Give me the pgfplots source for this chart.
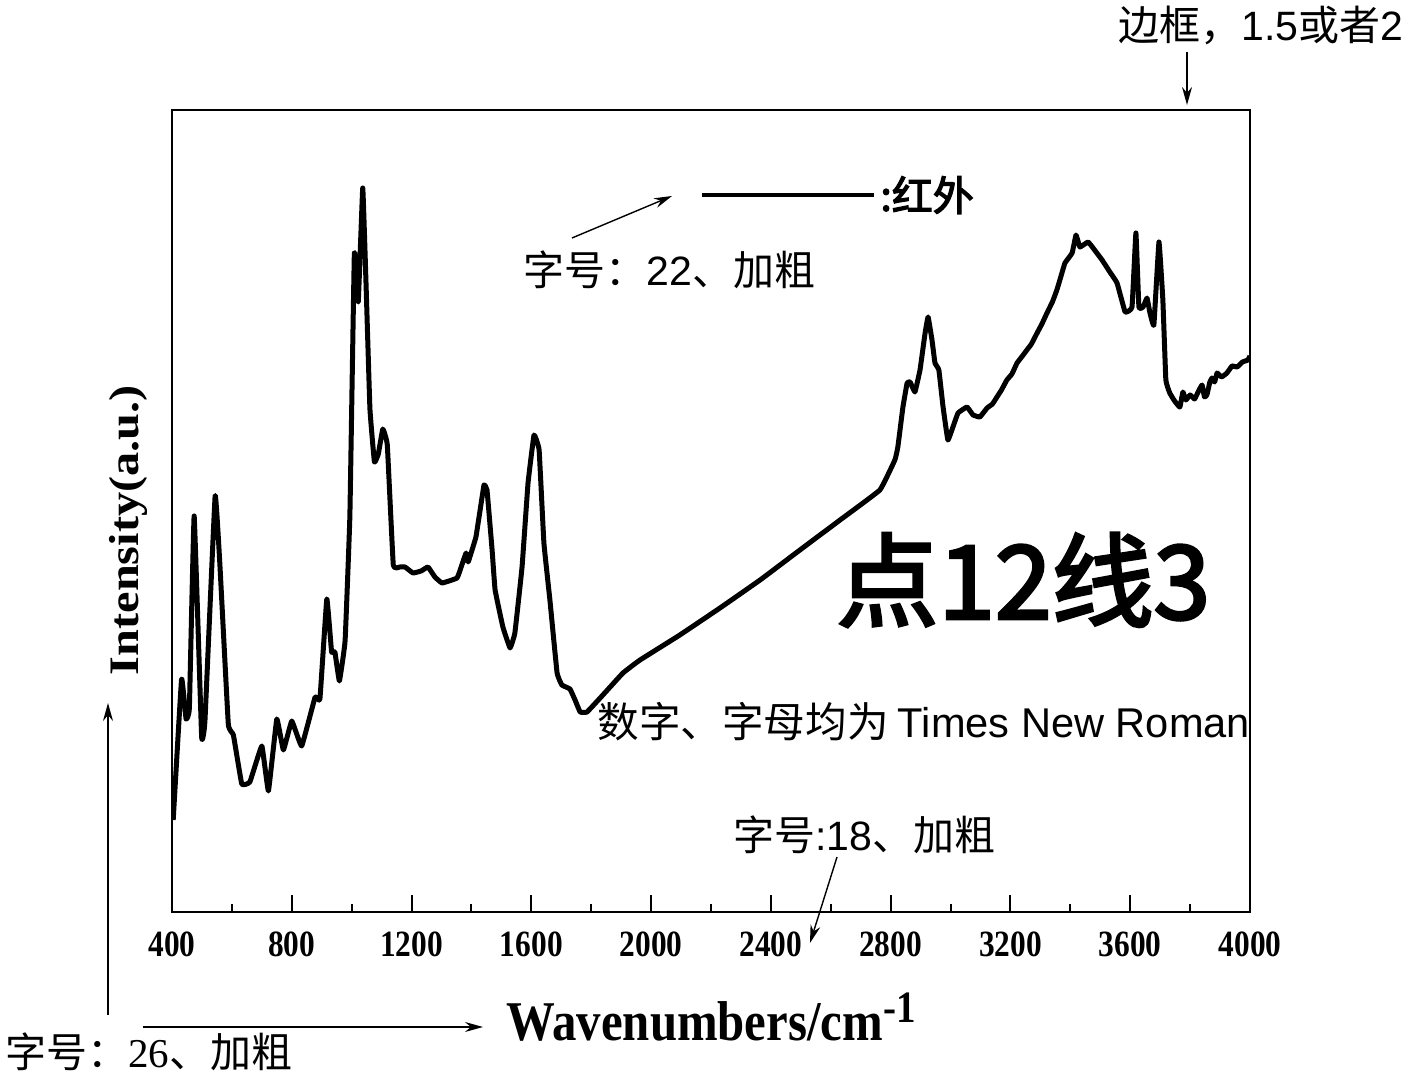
\documentclass[border=0pt]{standalone}
\usepackage{pgfplots}
\pgfplotsset{compat=1.18}
\usetikzlibrary{arrows.meta}
\usepackage{fontspec}
\setmainfont{Liberation Serif}
\newfontfamily\cjk{Noto Sans CJK SC}
\newfontfamily\cjkbig[FakeBold=3]{Noto Sans CJK SC}
\newfontfamily\arial{Liberation Sans}
\newcommand\vs[2][1.18]{\scalebox{1}[#1]{#2}}
\pgfplotstableread{
wn y
404 92
432 233
447 193
458 204
474 396
499 175
510 191
544 416
560 347
588 188
605 177
633 128
660 130
700 166
722 121
750 193
772 162
800 191
833 166
878 215
894 213
917 313
933 260
944 260
959 231
978 271
994 396
1009 659
1022 610
1037 724
1048 628
1061 503
1076 450
1089 458
1104 483
1119 467
1139 347
1161 345
1178 345
1205 339
1232 341
1255 345
1278 335
1302 329
1352 334
1368 347
1382 359
1389 350
1402 362
1415 375
1429 402
1442 427
1452 422
1469 362
1479 322
1505 285
1529 264
1545 279
1569 345
1589 429
1609 477
1626 462
1642 369
1662 312
1686 239
1702 227
1729 223
1746 212
1763 200
1786 200
1839 217
1906 239
1963 252
2096 277
2230 304
2364 332
2497 362
2631 392
2764 422
2814 452
2824 465
2841 505
2855 529
2865 530
2881 520
2898 542
2915 579
2925 595
2938 572
2948 549
2961 542
2975 505
2991 472
3008 485
3025 499
3055 505
3075 497
3098 495
3122 504
3140 508
3155 515
3170 522
3188 532
3205 538
3222 549
3240 556
3255 562
3270 568
3289 579
3305 588
3322 599
3340 610
3355 622
3370 637
3382 649
3406 659
3419 677
3432 665
3459 670
3476 664
3506 652
3532 640
3556 629
3583 600
3606 605
3619 679
3629 605
3643 605
3656 614
3666 599
3679 587
3696 670
3709 612
3719 532
3732 519
3746 512
3756 508
3766 505
3776 520
3786 512
3800 517
3815 513
3830 522
3840 527
3848 515
3856 517
3866 530
3873 534
3882 530
3890 539
3905 535
3923 539
3940 546
3957 545
3975 550
3993 552
4000 556
}\irdata

\begin{document}
\begin{tikzpicture}
\useasboundingbox (0,0) rectangle (704pt,540pt);
\begin{axis}[
  scale only axis, width=539pt, height=401pt,
  at={(86pt,84pt)}, anchor=south west,
  xmin=400, xmax=4000, ymin=0, ymax=802,
  axis line style={line width=1.3pt},
  xtick={400,800,...,4000},
  xticklabels={\vs{400},\vs{800},\vs{1200},\vs{1600},\vs{2000},\vs{2400},\vs{2800},\vs{3200},\vs{3600},\vs{4000}},
  minor xtick={600,1000,...,3800},
  ytick=\empty,
  xtick pos=bottom, tick align=inside,
  major tick length=8.5pt, minor tick length=4pt,
  every tick/.style={black, line width=1pt},
  xticklabel style={font=\bfseries\fontsize{15.7}{16}\selectfont, yshift=-6.5pt},
  xlabel={\vs[1.15]{\textbf{Wavenumbers/cm\raisebox{7.4pt}{\fontsize{19.5}{20}\selectfont -1}}}},
  xlabel style={at={(axis description cs:0.5,-0.1596)}, anchor=base, font=\fontsize{24.4}{26}\selectfont},
  ylabel={\scalebox{1.15}[1]{\textbf{Intensity(a.u.)}}},
  ylabel style={at={(axis description cs:-0.0408,0.476)}, anchor=center, font=\fontsize{21}{22}\selectfont},
  legend style={at={(axis description cs:0.4898,0.894)}, anchor=west, draw=none, fill=none, inner sep=0pt,
    font=\cjkbig\fontsize{20.5}{22}\selectfont},
  legend cell align=left,
  legend image code/.code={\draw[black, line width=2pt] (0pt,0pt) -- (86pt,0pt);},
]
\addplot[black, line width=2.5pt, line join=round, smooth, tension=0.15] table[x=wn, y=y] {\irdata};
\addlegendentry{:红外}
\end{axis}
\begin{scope}[x=0.5pt, y=0.5pt]
  \node[anchor=west, inner sep=0pt, font=\cjk\fontsize{20.5}{22}\selectfont] at (1118,1055) {边框，{\arial 1.5}或者{\arial 2}};
  \draw[-{Stealth[length=9pt,width=5pt]}, line width=0.7pt] (1187,1028) -- (1187,975);
  \node[anchor=west, inner sep=0pt, font=\cjk\fontsize{20.5}{22}\selectfont] at (523,810) {字号：{\arial 22}、加粗};
  \draw[-{Stealth[length=9pt,width=5pt]}, line width=0.7pt] (572,842) -- (672,884);
  \node[anchor=west, inner sep=0pt, font=\cjkbig\fontsize{51}{54}\selectfont] at (836,500) {点12线3};
  \node[anchor=west, inner sep=0pt, font=\cjk\fontsize{20.8}{22}\selectfont] at (597,358) {数字、字母均为 {\arial Times New Roman}};
  \node[anchor=west, inner sep=0pt, font=\cjk\fontsize{20.5}{22}\selectfont] at (733,245) {字号{\arial :18}、加粗};
  \draw[-{Stealth[length=9pt,width=5pt]}, line width=0.7pt] (837,223) -- (810,137);
  \node[anchor=west, inner sep=0pt, font=\cjk\fontsize{20.5}{22}\selectfont] at (5,28) {字号：{\rmfamily 26}、加粗};
  \draw[-{Stealth[length=9pt,width=5pt]}, line width=0.7pt] (108,65) -- (108,377);
  \draw[-{Stealth[length=9pt,width=5pt]}, line width=0.7pt] (143,53) -- (483,53);
\end{scope}
\end{tikzpicture}
\end{document}
